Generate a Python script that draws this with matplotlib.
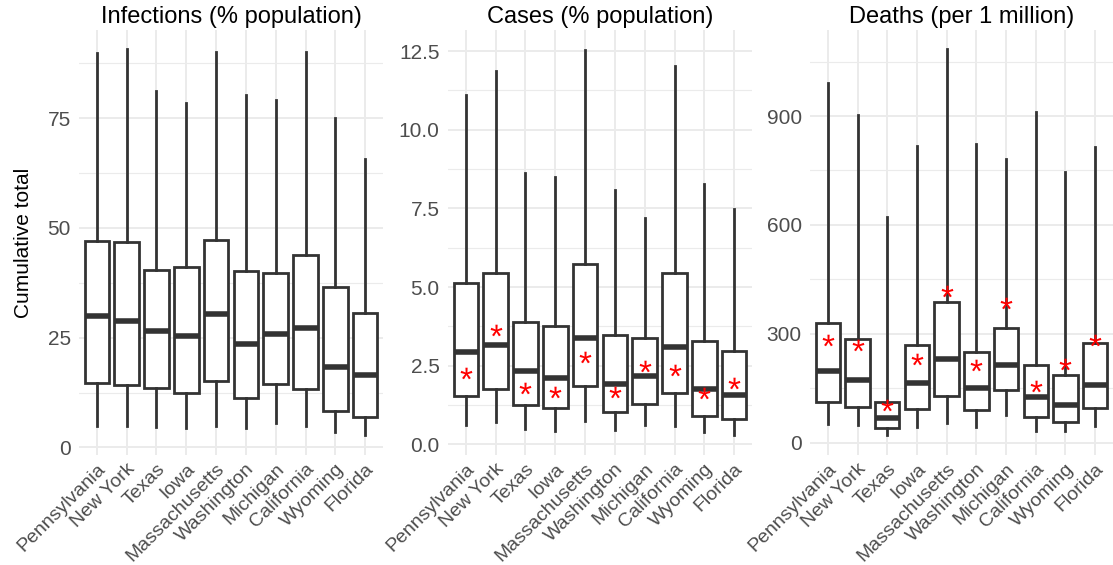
import matplotlib
matplotlib.use("Agg")
import matplotlib.pyplot as plt
import matplotlib.transforms as mtransforms
import numpy as np
from matplotlib.textpath import TextPath
from matplotlib.font_manager import FontProperties
from matplotlib.path import Path

plt.rcParams['font.family'] = ['Liberation Sans', 'DejaVu Sans']

states = ["Pennsylvania", "New York", "Texas", "Iowa", "Massachusetts",
          "Washington", "Michigan", "California", "Wyoming", "Florida"]

# Infections (% population)
inf_lower = [4.9, 4.9, 4.7, 4.4, 4.9, 4.4, 5.5, 4.9, 3.6, 2.8]
inf_q1 = [14.6, 14.2, 13.5, 12.4, 15.2, 11.2, 14.5, 13.3, 8.3, 7.0]
inf_med = [30.0, 28.9, 26.6, 25.3, 30.4, 23.5, 25.8, 27.3, 18.4, 16.5]
inf_q3 = [47.1, 46.7, 40.5, 41.1, 47.3, 40.1, 39.8, 43.8, 36.6, 30.7]
inf_upper = [89.9, 90.7, 81.3, 78.4, 90.0, 80.3, 79.2, 90.0, 75.0, 65.7]

# Cases (% population)
cas_lower = [0.61, 0.72, 0.48, 0.42, 0.74, 0.45, 0.61, 0.58, 0.38, 0.30]
cas_q1 = [1.53, 1.75, 1.25, 1.14, 1.85, 1.02, 1.28, 1.62, 0.90, 0.79]
cas_med = [2.92, 3.16, 2.34, 2.12, 3.37, 1.91, 2.17, 3.08, 1.75, 1.57]
cas_q3 = [5.12, 5.43, 3.89, 3.76, 5.73, 3.47, 3.37, 5.43, 3.28, 2.96]
cas_upper = [11.10, 11.86, 8.61, 8.50, 12.55, 8.08, 7.18, 12.03, 8.27, 7.47]
cas_obs = [2.26, 3.63, 1.78, 1.67, 2.76, 1.67, 2.49, 2.36, 1.62, 1.94]

# Deaths (per 1 million)
dea_lower = [51, 48, 21, 44, 53, 44, 76, 33, 33, 46]
dea_q1 = [113, 99, 40, 92, 129, 90, 145, 72, 58, 95]
dea_med = [198, 173, 69, 164, 230, 152, 214, 127, 104, 159]
dea_q3 = [331, 285, 113, 269, 388, 251, 315, 214, 186, 275]
dea_upper = [990, 903, 623, 818, 1084, 822, 781, 912, 747, 815]
dea_obs = [283, 269, 104, 230, 418, 214, 386, 156, 216, 283]

W, H = 1113, 565
fig = plt.figure(figsize=(W / 100, H / 100), dpi=100)

# asterisk marker centred on its bbox
tp = TextPath((0, 0), "*", size=1, prop=FontProperties(family='Liberation Sans'))
codes = tp.codes
v = tp.vertices.copy()
real = codes != Path.CLOSEPOLY
cx = (v[real, 0].min() + v[real, 0].max()) / 2
cy = (v[real, 1].min() + v[real, 1].max()) / 2
v[:, 0] -= cx
v[:, 1] -= cy
v[~real] = 0.0
star = Path(v, codes)

LC = '#333333'
GRID = '#EBEBEB'
TXT = '#4D4D4D'

panels = [
    dict(title="Infections (% population)", lo=inf_lower, q1=inf_q1, med=inf_med,
         q3=inf_q3, hi=inf_upper, obs=None, ylim=(-1.71, 95.1),
         major=[0, 25, 50, 75], labels=["0", "25", "50", "75"],
         minor=[12.5, 37.5, 62.5, 87.5], px=(79, 383)),
    dict(title="Cases (% population)", lo=cas_lower, q1=cas_q1, med=cas_med,
         q3=cas_q3, hi=cas_upper, obs=cas_obs, ylim=(-0.34, 13.17),
         major=[0, 2.5, 5, 7.5, 10, 12.5],
         labels=["0.0", "2.5", "5.0", "7.5", "10.0", "12.5"],
         minor=[1.25, 3.75, 6.25, 8.75, 11.25], px=(448, 752)),
    dict(title="Deaths (per 1 million)", lo=dea_lower, q1=dea_q1, med=dea_med,
         q3=dea_q3, hi=dea_upper, obs=dea_obs, ylim=(-33.9, 1137),
         major=[0, 300, 600, 900], labels=["0", "300", "600", "900"],
         minor=[150, 450, 750, 1050], px=(810, 1113)),
]

top_px, bot_px = 30, 455
pos = np.arange(1, len(states) + 1)
shift = mtransforms.ScaledTranslation(9 / 100, 5 / 100, fig.dpi_scale_trans)

for i, p in enumerate(panels):
    l, r = p['px']
    ax = fig.add_axes([l / W, 1 - bot_px / H, (r - l) / W, (bot_px - top_px) / H])
    stats = []
    for k in range(len(states)):
        stats.append(dict(whislo=p['lo'][k], q1=p['q1'][k], med=p['med'][k],
                          q3=p['q3'][k], whishi=p['hi'][k], fliers=[]))
    ax.bxp(stats, positions=pos, widths=0.82, showfliers=False, showcaps=False,
           patch_artist=True,
           boxprops=dict(facecolor='white', edgecolor=LC, linewidth=2.0),
           medianprops=dict(color=LC, linewidth=4.0, solid_capstyle='butt'),
           whiskerprops=dict(color=LC, linewidth=2.0), zorder=2)
    if p['obs'] is not None:
        ax.scatter(pos, p['obs'], marker=star, s=8.5 ** 2, color='red',
                   linewidths=0, zorder=5)
    ax.set_xlim(0.4, 10.6)
    ax.set_ylim(*p['ylim'])
    ax.set_yticks(p['major'])
    ax.set_yticklabels(p['labels'])
    ax.set_yticks(p['minor'], minor=True)
    ax.set_xticks(pos)
    ax.set_xticklabels(states, rotation=45, ha='right', va='top',
                       rotation_mode='anchor')
    for lab in ax.get_xticklabels():
        lab.set_transform(lab.get_transform() + shift)
    ax.grid(True, which='major', color=GRID, linewidth=1.4, zorder=0)
    ax.grid(True, which='minor', axis='y', color=GRID, linewidth=0.8, zorder=0)
    ax.set_axisbelow(True)
    for s in ax.spines.values():
        s.set_visible(False)
    ax.tick_params(axis='both', which='both', length=0, labelcolor=TXT)
    ax.tick_params(axis='y', pad=6, labelsize=15)
    ax.tick_params(axis='x', pad=4, labelsize=14)
    ax.set_title(p['title'], fontsize=17, pad=5, color='black')
    if i == 0:
        ax.set_ylabel("Cumulative total", fontsize=15, labelpad=10)

fig.savefig("out.png", dpi=100, facecolor='white')
